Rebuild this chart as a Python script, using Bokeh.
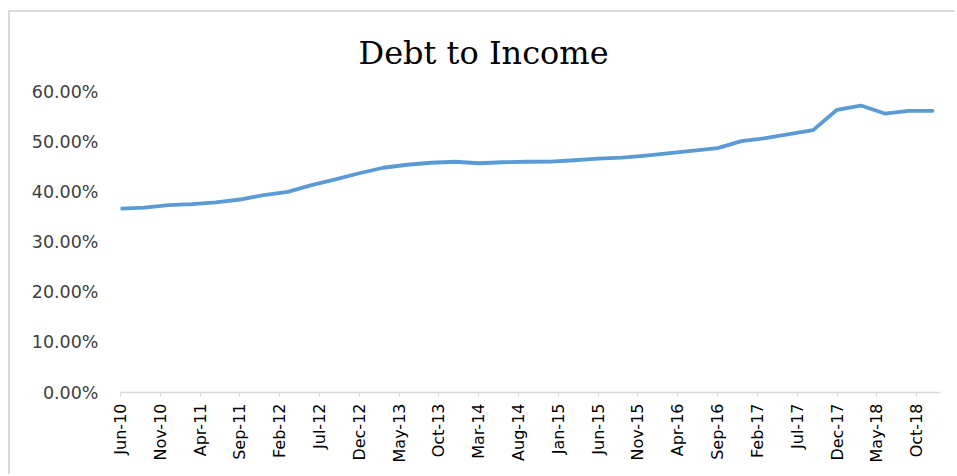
import pandas as pd
from bokeh.plotting import figure
from bokeh.models import FixedTicker, NumeralTickFormatter, Range1d
from bokeh.embed import file_html
from bokeh.resources import INLINE

# Quarterly observation dates
dates = ["Jun-10", "Sep-10", "Dec-10", "Mar-11", "Jun-11", "Sep-11", "Dec-11",
         "Mar-12", "Jun-12", "Sep-12", "Dec-12", "Mar-13", "Jun-13", "Sep-13",
         "Dec-13", "Mar-14", "Jun-14", "Sep-14", "Dec-14", "Mar-15", "Jun-15",
         "Sep-15", "Dec-15", "Mar-16", "Jun-16", "Sep-16", "Dec-16", "Mar-17",
         "Jun-17", "Sep-17", "Dec-17", "Mar-18", "Jun-18", "Sep-18", "Dec-18"]

# Debt to income ratio (fraction)
debt_to_income = [0.3667, 0.3687, 0.3735, 0.3755, 0.3790, 0.3847, 0.3935,
                  0.4000, 0.4134, 0.4250, 0.4370, 0.4480, 0.4540, 0.4580,
                  0.4600, 0.4570, 0.4590, 0.4600, 0.4604, 0.4630, 0.4660,
                  0.4680, 0.4720, 0.4770, 0.4820, 0.4870, 0.5010, 0.5070,
                  0.5150, 0.5230, 0.5635, 0.5720, 0.5560, 0.5615, 0.5615]

# X tick labels (every 5 months)
tick_labels = ["Jun-10", "Nov-10", "Apr-11", "Sep-11", "Feb-12", "Jul-12", "Dec-12",
               "May-13", "Oct-13", "Mar-14", "Aug-14", "Jan-15", "Jun-15", "Nov-15",
               "Apr-16", "Sep-16", "Feb-17", "Jul-17", "Dec-17", "May-18", "Oct-18"]

y_ticks = [0.0, 0.1, 0.2, 0.3, 0.4, 0.5, 0.6]


def month_index(label):
    d = pd.to_datetime(label, format="%b-%y")
    return (d.year - 2010) * 12 + d.month - 6


xs = [month_index(d) for d in dates]
tick_pos = [month_index(t) for t in tick_labels]

p = figure(width=947, height=464, output_backend="svg", toolbar_location=None,
           x_range=Range1d(0, 103), y_range=Range1d(0, 0.6),
           min_border_left=110, min_border_right=17, min_border_top=79,
           min_border_bottom=84)
p.margin = (10, 0, 0, 8)
p.styles = {"border-top": "2px solid #d9d9d9", "border-left": "2px solid #d9d9d9"}

p.line(xs, debt_to_income, line_color="#5b9bd5", line_width=3.8,
       line_join="round", line_cap="round")

p.title.text = "Debt to Income"
p.title.align = "left"
p.title.vertical_align = "top"
p.title.text_font = "DejaVu Serif"
p.title.text_font_size = "32px"
p.title.text_font_style = "normal"
p.title.text_color = "#000000"
p.title.offset = 238
p.title.standoff = 36

p.xgrid.visible = False
p.ygrid.visible = False
p.outline_line_color = None
p.background_fill_color = "white"
p.border_fill_color = "white"

p.yaxis.ticker = FixedTicker(ticks=y_ticks)
p.yaxis.formatter = NumeralTickFormatter(format="0.00%")
p.yaxis.axis_line_color = None
p.yaxis.major_tick_line_color = None
p.yaxis.minor_tick_line_color = None
p.yaxis.major_tick_out = 0
p.yaxis.major_tick_in = 0
p.yaxis.major_label_standoff = 22
p.yaxis.major_label_text_font = "DejaVu Sans"
p.yaxis.major_label_text_font_size = "17.5px"
p.yaxis.major_label_text_color = "#404040"

p.xaxis.ticker = FixedTicker(ticks=tick_pos, minor_ticks=[])
p.xaxis.major_label_overrides = {t: l for t, l in zip(tick_pos, tick_labels)}
p.xaxis.major_label_orientation = 3.14159265 / 2
p.xaxis.axis_line_color = "#d9d9d9"
p.xaxis.axis_line_width = 1.5
p.xaxis.major_tick_line_color = "#d9d9d9"
p.xaxis.major_tick_out = 4
p.xaxis.major_tick_in = 0
p.xaxis.minor_tick_line_color = None
p.xaxis.major_label_standoff = 7
p.xaxis.major_label_text_font = "DejaVu Sans"
p.xaxis.major_label_text_font_size = "16px"
p.xaxis.major_label_text_color = "#000000"

open("out.html", "w").write(file_html(p, INLINE))
